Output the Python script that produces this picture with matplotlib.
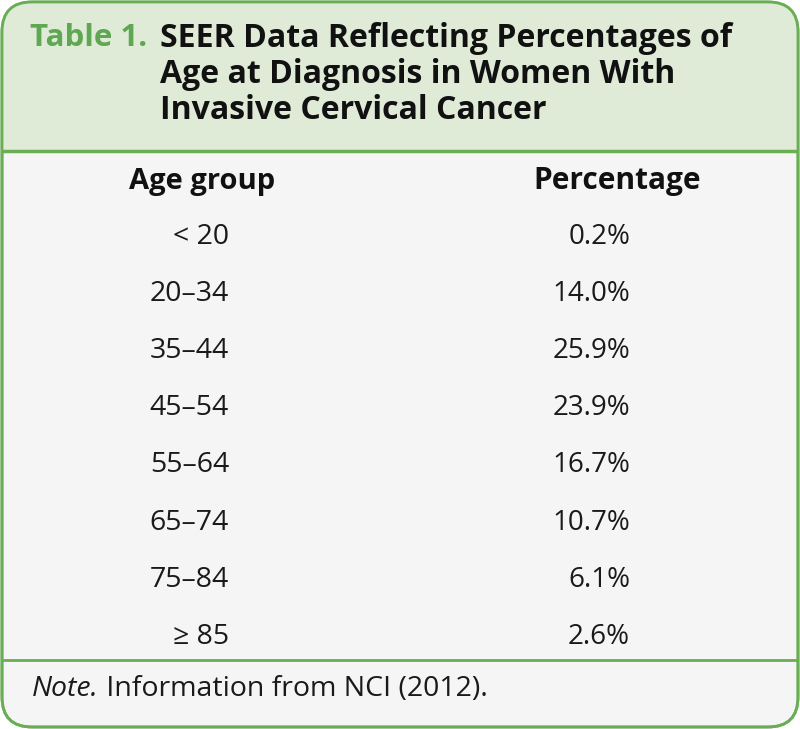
import matplotlib.pyplot as plt
from matplotlib.patches import FancyBboxPatch, Rectangle

age_groups = ["< 20", "20\u201334", "35\u201344", "45\u201354", "55\u201364", "65\u201374", "75\u201384", "\u2265 85"]
percentages = [0.2, 14.0, 25.9, 23.9, 16.7, 10.7, 6.1, 2.6]
col_headers = ["Age group", "Percentage"]
title_label = "Table 1."
title_lines = ["SEER Data Reflecting Percentages of",
               "Age at Diagnosis in Women With",
               "Invasive Cervical Cancer"]
note_italic = "Note."
note_rest = " Information from NCI (2012)."

green = "#69ad55"
title_green = "#5fa752"
head_bg = "#dfead7"
body_bg = "#f5f5f5"
font = ["Open Sans", "DejaVu Sans"]

W, H = 800, 729
fig = plt.figure(figsize=(8, 7.29), dpi=100)
ax = fig.add_axes([0, 0, 1, 1])
ax.set_xlim(0, W)
ax.set_ylim(H, 0)
ax.axis("off")
fig.patch.set_facecolor("white")

box = FancyBboxPatch((2, 2), W - 4, H - 4, boxstyle="round,pad=0,rounding_size=30",
                     facecolor=body_bg, edgecolor=green, linewidth=2, zorder=1)
ax.add_patch(box)
header = Rectangle((0, 0), W, 150, facecolor=head_bg, edgecolor="none", zorder=2)
ax.add_patch(header)
header.set_clip_path(box)
ax.plot([4, W - 4], [151, 151], color=green, lw=2.5, zorder=3)
ax.plot([4, W - 4], [660, 660], color=green, lw=2, zorder=3)
border = FancyBboxPatch((2, 2), W - 4, H - 4, boxstyle="round,pad=0,rounding_size=30",
                        facecolor="none", edgecolor=green, linewidth=2, zorder=4)
ax.add_patch(border)

# title block
ax.text(30, 38, title_label, color=title_green, fontsize=22.5, fontweight="bold",
        family=font, va="center", ha="left", zorder=5)
for i, line in enumerate(title_lines):
    ax.text(160, 38 + i * 36, line, color="#111111", fontsize=23, fontweight="bold",
            family=font, va="center", ha="left", zorder=5)

# column headers
ax.text(202, 181, col_headers[0], fontsize=21, fontweight="bold", family=font,
        ha="center", va="center", color="#111111", zorder=5)
ax.text(617, 181, col_headers[1], fontsize=21.5, fontweight="bold", family=font,
        ha="center", va="center", color="#111111", zorder=5)

row_y0, row_dy = 237, 57.1
for i, (ag, p) in enumerate(zip(age_groups, percentages)):
    y = row_y0 + i * row_dy
    ax.text(229, y, ag, fontsize=20.5, family=font, ha="right", va="center",
            color="#1a1a1a", zorder=5)
    ax.text(630, y, f"{p:.1f}%", fontsize=20, family=font, ha="right", va="center",
            color="#1a1a1a", zorder=5)

t = ax.text(32, 689, note_italic, fontsize=20.5, style="italic", family=font,
            ha="left", va="center", color="#1a1a1a", zorder=5)
fig.canvas.draw()
bb = t.get_window_extent()
x_end = ax.transData.inverted().transform((bb.x1, bb.y0))[0]
ax.text(x_end, 689, note_rest, fontsize=20.5, family=font, ha="left", va="center",
        color="#1a1a1a", zorder=5)

fig.savefig("out.png", dpi=100, facecolor="white")
